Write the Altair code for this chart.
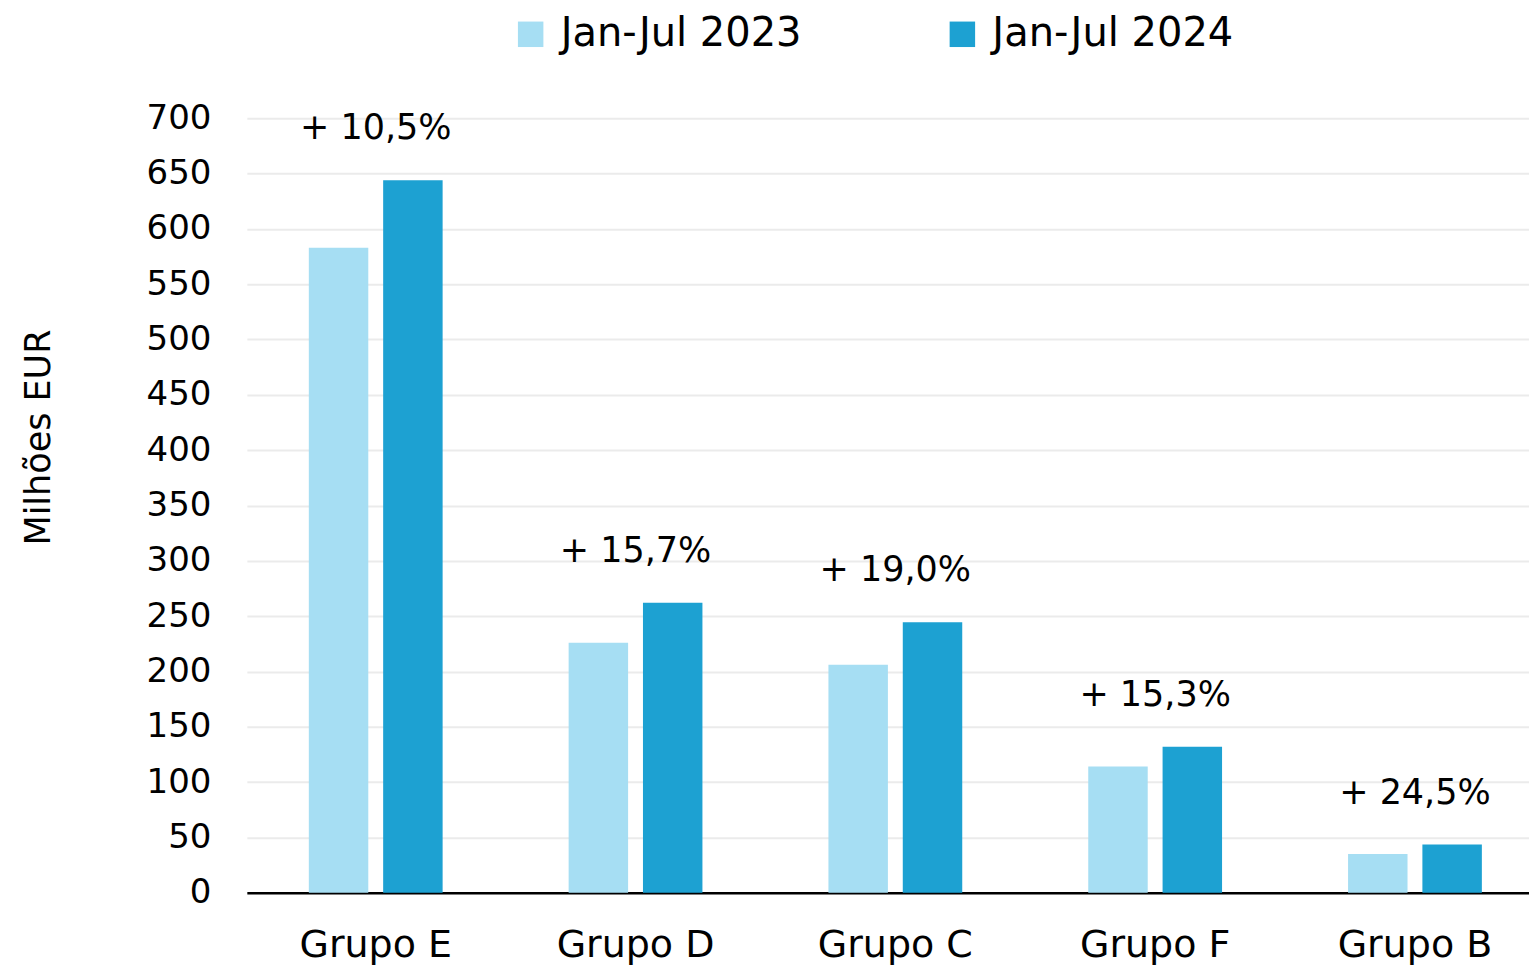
import altair as alt
import pandas as pd

groups = ["Grupo E", "Grupo D", "Grupo C", "Grupo F", "Grupo B"]
periods = ["Jan-Jul 2023", "Jan-Jul 2024"]
v2023 = [583, 226, 206, 114, 35]
v2024 = [644, 262, 244.5, 132, 43.5]
growth = ["+ 10,5%", "+ 15,7%", "+ 19,0%", "+ 15,3%", "+ 24,5%"]
colors = ["#A6DEF3", "#1DA1D2"]
y_ticks = list(range(0, 701, 50))

rows = []
for g, a, b in zip(groups, v2023, v2024):
    rows.append({"Grupo": g, "Periodo": periods[0], "Valor": a})
    rows.append({"Grupo": g, "Periodo": periods[1], "Valor": b})
df = pd.DataFrame(rows)
lab = pd.DataFrame({"Grupo": groups, "Top": [max(a, b) for a, b in zip(v2023, v2024)], "Txt": growth})

FONT = "DejaVu Sans"

x_enc = alt.X("Grupo:N", sort=groups, title=None,
              scale=alt.Scale(paddingInner=0.485, paddingOuter=0.21, align=0.568),
              axis=alt.Axis(labelFontSize=38, labelColor="black", labelPadding=34,
                            ticks=False, domainColor="black", domainWidth=2.5,
                            labelAngle=0, labelFont=FONT))
y_enc = alt.Y("Valor:Q", title="Milhões EUR",
              scale=alt.Scale(domain=[0, 700], nice=False),
              axis=alt.Axis(values=y_ticks, labelFontSize=34, labelColor="black",
                            labelPadding=36, ticks=False, domain=False,
                            gridColor="#ebebeb", gridWidth=2,
                            titleFontSize=35, titleFontWeight="normal", titleColor="black",
                            titlePadding=90, titleY=319, titleFont=FONT, labelFont=FONT))

bars = alt.Chart(df).mark_bar().encode(
    x=x_enc,
    y=y_enc,
    xOffset=alt.XOffset("Periodo:N", sort=periods, scale=alt.Scale(paddingInner=0.2, paddingOuter=0)),
    color=alt.Color("Periodo:N", sort=periods,
                    scale=alt.Scale(domain=periods, range=colors),
                    legend=alt.Legend(title=None, orient="none", legendX=264, legendY=-104,
                                      direction="horizontal", symbolType="square",
                                      symbolSize=650, symbolStrokeWidth=0,
                                      labelFontSize=40, labelFont=FONT, labelColor="black",
                                      labelLimit=500,
                                      labelOffset=10, columnPadding=140)),
)

texts = alt.Chart(lab).mark_text(fontSize=35, font=FONT, color="black",
                                 baseline="middle", dy=-52).encode(
    x=alt.X("Grupo:N", sort=groups),
    y=alt.Y("Top:Q"),
    text="Txt:N",
)

chart = alt.layer(bars, texts).properties(
    width=1283, height=775,
    padding={"left": 13, "top": 6, "right": 0, "bottom": 0},
).configure_view(stroke=None).configure_axis(grid=True).configure_axisX(grid=False)

chart.save("out.html", embed_options={"renderer": "svg", "actions": False})
